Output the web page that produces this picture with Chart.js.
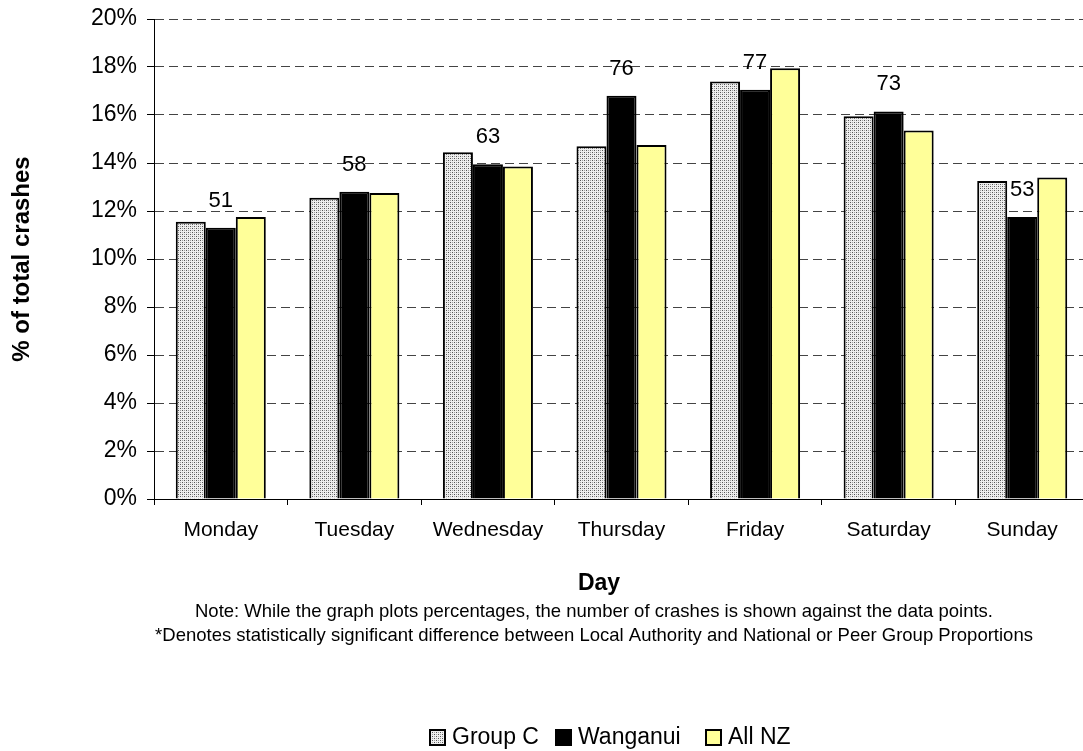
<!DOCTYPE html>
<html lang="en">
  <head>
    <meta charset="utf-8" />
    <title>Crashes by day</title>
    <style>
      * {
        margin: 0;
        padding: 0;
      }
      body {
        width: 1083px;
        height: 751px;
        overflow: hidden;
        background: white;
      }
      .chartBox {
        width: 1095px;
        height: 751px;
      }
    </style>
  </head>
  <body>
    <div class="chartBox">
      <canvas id="myChart" width="1095" height="751"></canvas>
    </div>

    <script src="https://cdn.jsdelivr.net/npm/chart.js@4/dist/chart.umd.min.js"></script>

    <script>
      const days = ["Monday", "Tuesday", "Wednesday", "Thursday", "Friday", "Saturday", "Sunday"];
      const groupC = [11.55, 12.55, 14.45, 14.7, 17.4, 15.95, 13.25];
      const wanganui = [11.3, 12.8, 13.95, 16.8, 17.05, 16.15, 11.75];
      const allNZ = [11.75, 12.75, 13.85, 14.75, 17.95, 15.35, 13.4];
      const crashCounts = [51, 58, 63, 76, 77, 73, 53];
      const seriesNames = ["Group C", "Wanganui", "All NZ"];
      const yTicks = [0, 2, 4, 6, 8, 10, 12, 14, 16, 18, 20];

      const FONT = "'Liberation Sans', Arial, sans-serif";

      // dotted fill for Group C
      const makeDots = () => {
        const c = document.createElement("canvas");
        c.width = 4;
        c.height = 4;
        const g = c.getContext("2d");
        g.fillStyle = "#eeeeee";
        g.fillRect(0, 0, 4, 4);
        g.fillStyle = "#555555";
        g.fillRect(0, 0, 1, 1);
        g.fillRect(2, 2, 1, 1);
        g.fillStyle = "#a0a0a0";
        g.fillRect(2, 0, 1, 1);
        g.fillRect(0, 2, 1, 1);
        return c;
      };
      const ctx0 = document.getElementById("myChart").getContext("2d");
      const dots = ctx0.createPattern(makeDots(), "repeat");

      // count labels over Wanganui bars
      const countLabels = {
        id: "countLabels",
        afterDatasetsDraw(chart) {
          const { ctx } = chart;
          ctx.save();
          ctx.font = "22px " + FONT;
          ctx.fillStyle = "#000";
          ctx.textAlign = "center";
          ctx.textBaseline = "middle";
          chart.getDatasetMeta(1).data.forEach((bar, i) => {
            ctx.fillText(String(crashCounts[i]), bar.x, bar.y - 27);
          });
          ctx.restore();
        },
      };

      // titles, notes and legend
      const extras = {
        id: "extras",
        afterDraw(chart) {
          const { ctx } = chart;
          ctx.save();
          ctx.fillStyle = "#000";
          ctx.textBaseline = "middle";

          // y title
          ctx.save();
          ctx.translate(22, 259);
          ctx.rotate(-Math.PI / 2);
          ctx.textAlign = "center";
          ctx.font = "bold 24px " + FONT;
          ctx.fillText("% of total crashes", 0, 0);
          ctx.restore();

          // x title
          ctx.textAlign = "center";
          ctx.font = "bold 23px " + FONT;
          ctx.fillText("Day", 599, 584);

          // notes
          ctx.font = "18.5px " + FONT;
          ctx.fillText("Note: While the graph plots percentages, the number of crashes is shown against the data points.", 594, 612);
          ctx.fillText("*Denotes statistically significant difference between Local Authority and National or Peer Group Proportions", 594, 636);

          // legend
          const fills = [dots, "#000000", "#ffff99"];
          const boxX = [430, 556, 706];
          ctx.font = "23px " + FONT;
          ctx.textAlign = "left";
          seriesNames.forEach((name, i) => {
            ctx.fillStyle = fills[i];
            ctx.fillRect(boxX[i], 730, 15, 15);
            ctx.strokeStyle = "#000";
            ctx.lineWidth = 2;
            ctx.strokeRect(boxX[i], 730, 15, 15);
            ctx.fillStyle = "#000";
            ctx.fillText(name, boxX[i] + 22, 738);
          });
          ctx.restore();
        },
      };

      const data = {
        labels: days,
        datasets: [
          { label: seriesNames[0], data: groupC, backgroundColor: dots },
          { label: seriesNames[1], data: wanganui, backgroundColor: "#000000" },
          { label: seriesNames[2], data: allNZ, backgroundColor: "#ffff99" },
        ],
      };
      data.datasets.forEach((ds) => {
        ds.borderColor = "#000";
        ds.borderWidth = 2;
        ds.barPercentage = 1;
        ds.categoryPercentage = 0.674;
      });

      const config = {
        type: "bar",
        data: data,
        options: {
          responsive: false,
          animation: false,
          devicePixelRatio: 1,
          layout: {
            padding: { top: 19, right: 6, bottom: 192, left: 0 },
          },
          plugins: {
            legend: { display: false },
            tooltip: { enabled: false },
          },
          scales: {
            x: {
              afterFit: (s) => {
                s.height = 60;
                s.paddingLeft = 0;
                s.paddingRight = 0;
              },
              grid: {
                drawOnChartArea: false,
                offset: true,
                tickLength: 6,
                tickColor: "#000",
              },
              border: { color: "#000", width: 1 },
              ticks: {
                color: "#000",
                font: { family: FONT, size: 21 },
                padding: 13,
              },
            },
            y: {
              min: 0,
              max: 20,
              afterFit: (s) => {
                s.width = 154;
                s.paddingTop = 0;
                s.paddingBottom = 0;
              },
              afterBuildTicks: (s) => {
                s.ticks = yTicks.map((v) => ({ value: v }));
              },
              grid: {
                color: "#444",
                lineWidth: 1,
                tickLength: 7,
                tickColor: "#000",
                tickBorderDash: [],
              },
              border: { color: "#000", width: 1, dash: [9, 5] },
              ticks: {
                color: "#000",
                font: { family: FONT, size: 23 },
                padding: 10,
                callback: (v) => v + "%",
              },
            },
          },
        },
        plugins: [countLabels, extras],
      };

      const myChart = new Chart(document.getElementById("myChart"), config);
    </script>
  </body>
</html>
